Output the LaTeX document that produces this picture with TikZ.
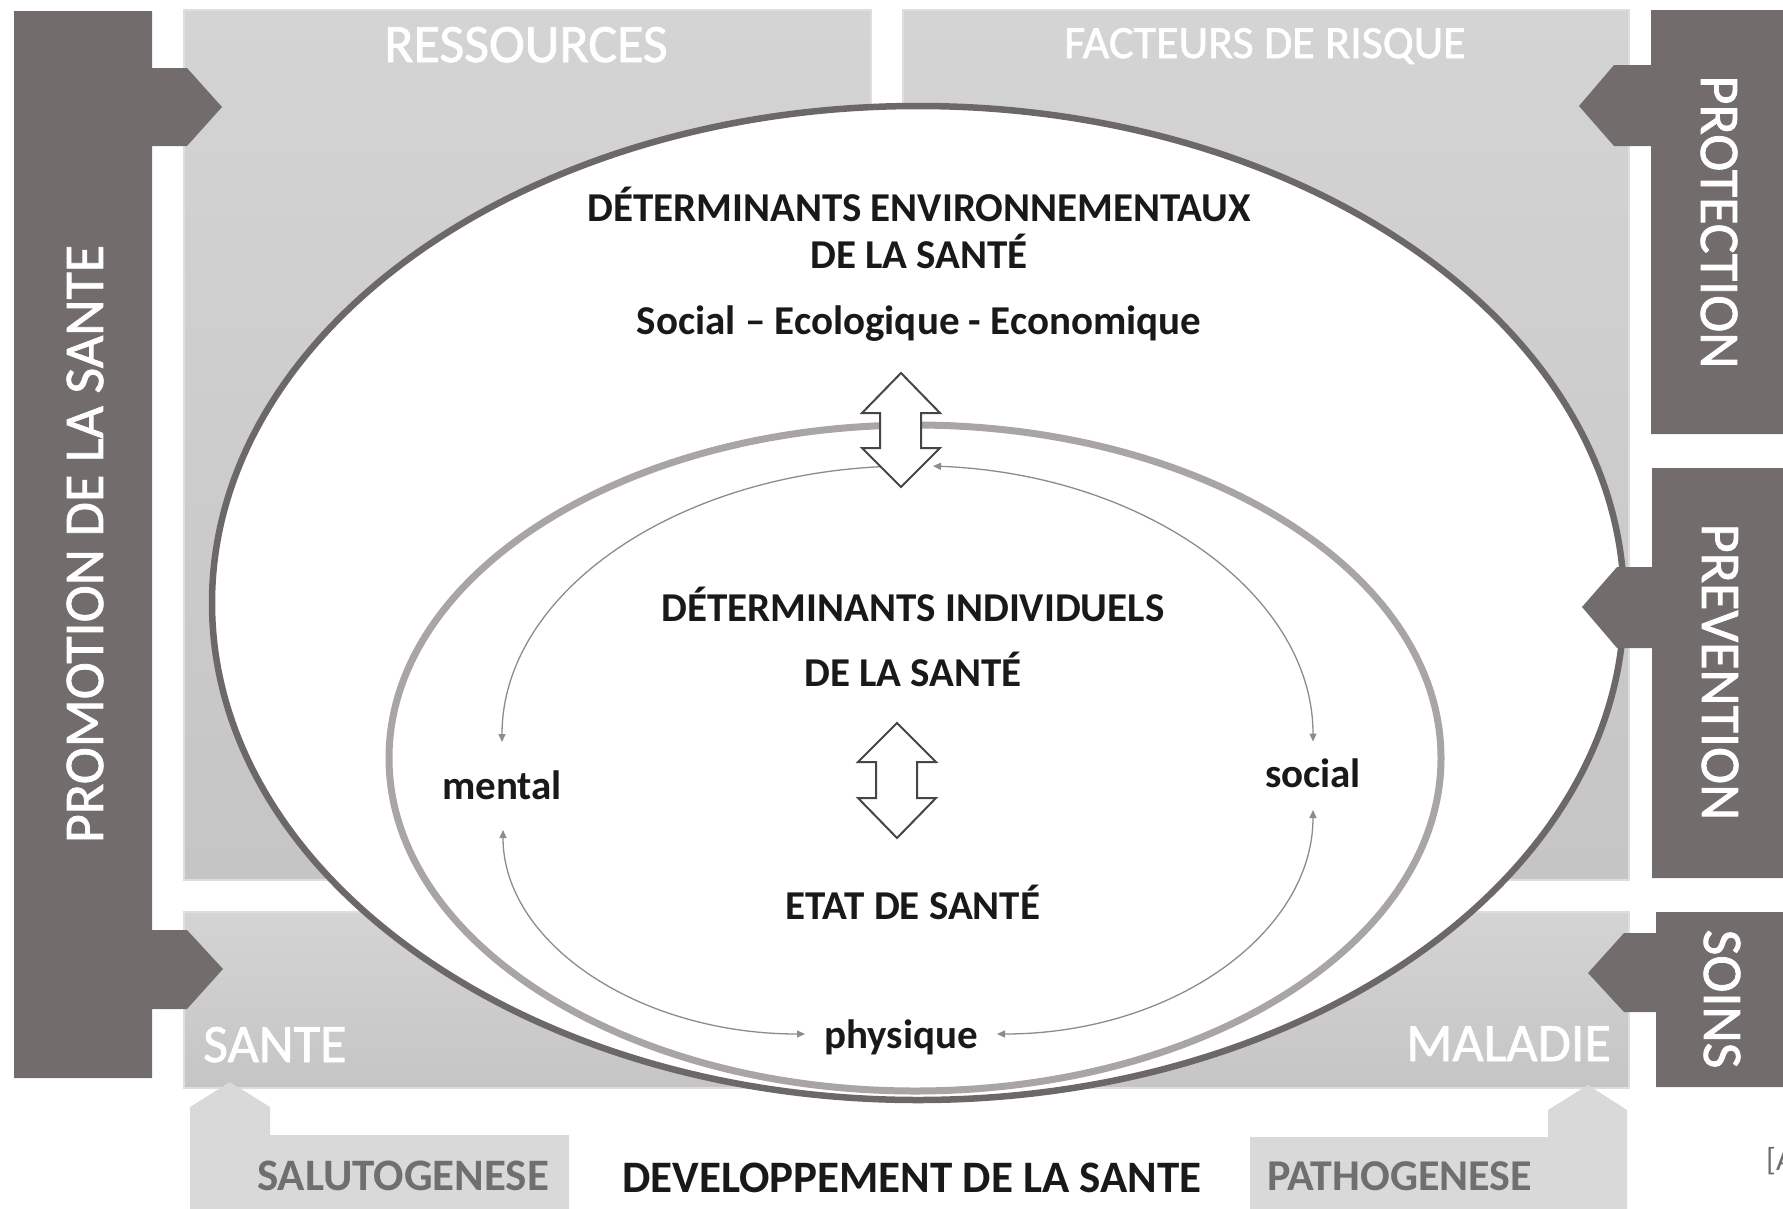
\documentclass[tikz,border=0pt]{standalone}
\usepackage{fontspec}
\setmainfont{Carlito}
\newfontfamily\semibold[FakeBold=1.4]{Carlito}
\usetikzlibrary{arrows.meta}
\definecolor{barc}{RGB}{114,109,108}
\definecolor{boxtop}{RGB}{212,212,212}
\definecolor{boxbot}{RGB}{197,197,197}
\definecolor{boxedge}{RGB}{222,222,222}
\definecolor{footbox}{RGB}{217,217,217}
\definecolor{foottext}{RGB}{112,110,110}
\definecolor{outerc}{RGB}{108,104,103}
\definecolor{innerc}{RGB}{168,165,164}
\definecolor{thinc}{RGB}{140,140,140}
\definecolor{txt}{RGB}{25,25,25}
\definecolor{dblc}{RGB}{70,70,70}
\begin{document}
\begin{tikzpicture}[x=1pt,y=-1pt,
  bar/.style={fill=barc},
  lbox/.style={top color=boxtop,bottom color=boxbot,draw=boxedge,line width=1.5pt},
  foot/.style={fill=footbox},
  bartext/.style={text=white,font=\semibold\fontsize{56pt}{60pt}\selectfont,inner sep=0pt},
  boxtext/.style={text=white,inner sep=0pt},
  foottxt/.style={text=foottext,inner sep=0pt,font=\fontsize{45pt}{50pt}\selectfont\bfseries},
  intxt/.style={text=txt,inner sep=0pt,font=\fontsize{41pt}{46pt}\selectfont\bfseries},
  thinarc/.style={draw=thinc,line width=1.3pt,arrows={Triangle[length=8pt,width=7pt]-Triangle[length=8pt,width=7pt]}},
  thinone/.style={draw=thinc,line width=1.3pt,-{Triangle[length=8pt,width=7pt]}},
  dblarrow/.style={draw=dblc,fill=white,line width=2pt,line join=miter}
]
\useasboundingbox (0,0) rectangle (1783,1208);
\clip (0,0) rectangle (1783,1208);

% light boxes
\path[lbox] (184,10) rectangle (871,880);
\path[lbox] (903,10) rectangle (1629,880);
\path[lbox] (184,912) rectangle (887,1088);
\path[lbox] (887,912) rectangle (1629,1088);

% footer boxes with up arrows
\path[foot] (190,1215) -- (190,1107) -- (230,1082) -- (270,1107) -- (270,1135) -- (569,1135) -- (569,1215) -- cycle;
\path[foot] (1250,1215) -- (1250,1137) -- (1548,1137) -- (1548,1110) -- (1588,1085) -- (1627,1110) -- (1627,1215) -- cycle;

% outer ellipse
\draw[draw=outerc,fill=white,line width=6.5pt] (918,603) ellipse [x radius=706pt, y radius=497pt];
% inner ellipse
\draw[draw=innerc,line width=7pt] (915,758) ellipse [x radius=526pt, y radius=333pt];

% texts in boxes
\node[boxtext,anchor=base,font=\semibold\fontsize{54pt}{60pt}\selectfont] (res) at (526,62) {RESSOURCES};
\node[boxtext,anchor=base,font=\semibold\fontsize{46pt}{50pt}\selectfont] (fac) at (1265,58) {FACTEURS DE RISQUE};
\node[boxtext,anchor=base west,font=\semibold\fontsize{54pt}{60pt}\selectfont] (sante) at (203,1062) {SANTE};
\node[boxtext,anchor=base east,font=\semibold\fontsize{54pt}{60pt}\selectfont] (maladie) at (1611,1061) {MALADIE};

% footer texts
\node[foottxt,anchor=base west] (salut) at (257,1190) {SALUTOGENESE};
\node[foottxt,anchor=base west,font=\fontsize{44pt}{50pt}\selectfont\bfseries] (patho) at (1267,1190) {PATHOGENESE};
\node[intxt,anchor=base,font=\fontsize{45pt}{50pt}\selectfont\bfseries] (dev) at (912,1192) {DEVELOPPEMENT DE LA SANTE};
\node[anchor=base west,inner sep=0pt,text=foottext,font=\fontsize{32pt}{36pt}\selectfont] (ref) at (1766,1170) {[A};

% inner texts
\node[intxt,anchor=base] (env1) at (919,221) {DÉTERMINANTS ENVIRONNEMENTAUX};
\node[intxt,anchor=base] (env2) at (919,268) {DE LA SANTÉ};
\node[intxt,anchor=base] (env3) at (919,334) {Social – Ecologique - Economique};
\node[intxt,anchor=base] (ind1) at (913,621) {DÉTERMINANTS INDIVIDUELS};
\node[intxt,anchor=base] (ind2) at (913,686) {DE LA SANTÉ};
\node[intxt,anchor=base] (etat) at (913,919) {ETAT DE SANTÉ};
\node[intxt,anchor=base] (mental) at (502,799) {mental};
\node[intxt,anchor=base] (social) at (1313,787) {social};
\node[intxt,anchor=base] (physique) at (901,1048) {physique};

% thin arcs
\coordinate (topL) at (910,466);
\coordinate (topR) at (933,466);
\coordinate (mentalB) at (503,830);
\coordinate (socialB) at (1313,810);
\draw[thinone] (topL) arc[start angle=90, end angle=180, x radius=408pt, y radius=276pt];
\draw[thinarc] (topR) arc[start angle=86.73, end angle=0, x radius=403pt, y radius=276pt];
\draw[thinarc] (mentalB) arc[start angle=180, end angle=270, x radius=302pt, y radius=204pt];
\draw[thinarc] (socialB) arc[start angle=0, end angle=-90, x radius=316pt, y radius=224pt];

% double arrows
\path[dblarrow] (901,373) -- (940,413) -- (921,413) -- (921,448) -- (940,448) -- (901,487) -- (862,448) -- (880,448) -- (880,413) -- (862,413) -- cycle;
\path[dblarrow] (897,723) -- (936,762) -- (917,762) -- (917,798) -- (936,798) -- (897,838) -- (858,798) -- (876,798) -- (876,762) -- (858,762) -- cycle;

% dark bars with tabs
\path[bar] (14,11) -- (152,11) -- (152,68) -- (187,68) -- (222,107) -- (187,146) -- (152,146) -- (152,930) -- (187,930) -- (223,969) -- (187,1009) -- (152,1009) -- (152,1078) -- (14,1078) -- cycle;
\path[bar] (1790,10) -- (1651,10) -- (1651,65) -- (1614,65) -- (1579,106) -- (1614,146) -- (1651,146) -- (1651,434) -- (1790,434) -- cycle;
\path[bar] (1790,468) -- (1652,468) -- (1652,567) -- (1617,567) -- (1582,607) -- (1617,648) -- (1652,648) -- (1652,878) -- (1790,878) -- cycle;
\path[bar] (1790,912) -- (1656,912) -- (1656,933) -- (1624,933) -- (1588,973) -- (1624,1012) -- (1656,1012) -- (1656,1087) -- (1790,1087) -- cycle;

% bar texts
\node[bartext,rotate=90] (promo) at (85,544) {PROMOTION DE LA SANTE};
\node[bartext,rotate=-90] (protec) at (1719,222) {PROTECTION};
\node[bartext,rotate=-90] (prev) at (1720,672) {PREVENTION};
\node[bartext,rotate=-90] (soins) at (1722,999) {SOINS};
\end{tikzpicture}
\end{document}
